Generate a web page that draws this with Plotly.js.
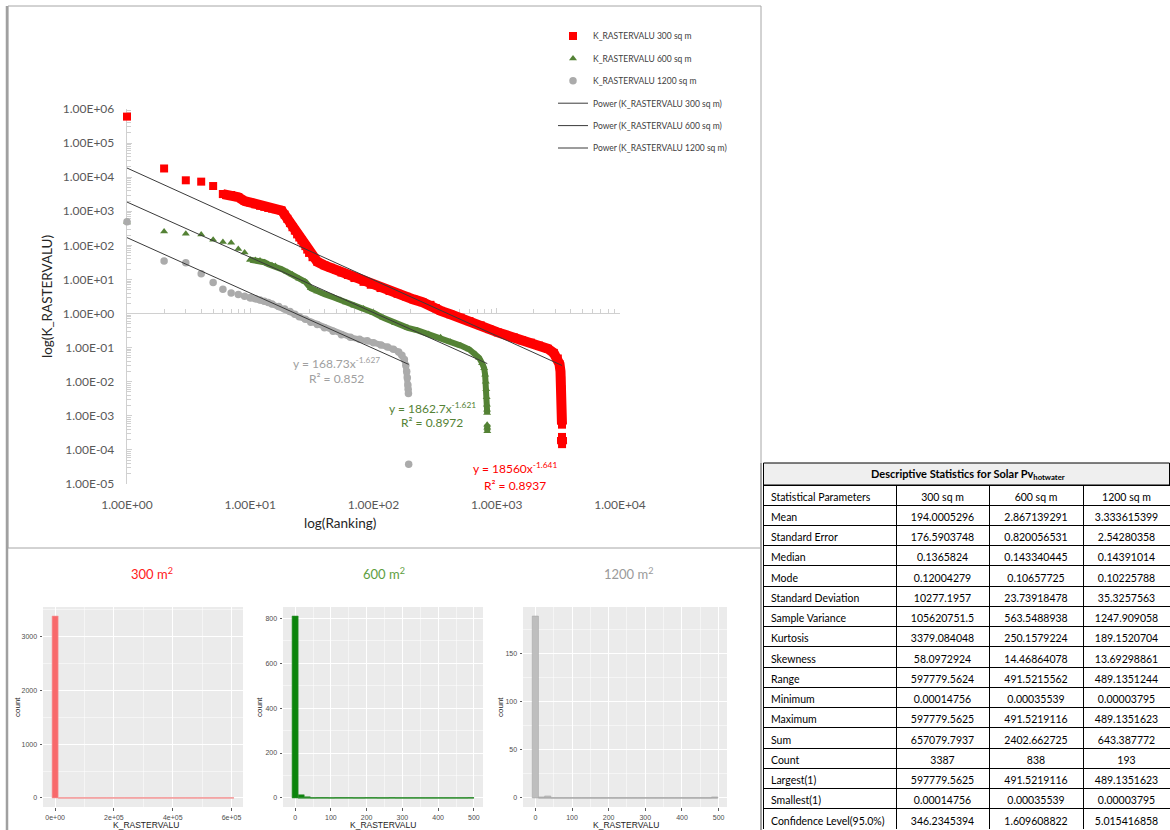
<!DOCTYPE html>
<html><head><meta charset="utf-8">
<script src="https://cdn.plot.ly/plotly-3.0.1.min.js"></script>
<style>html,body{margin:0;padding:0;background:#fff;}#chart{width:1170px;height:830px;}</style>
</head><body><div id="chart"></div>
<script>
// ---------- main chart data (rank vs value) ----------
const rank300Head = [1,2,3,4,5,6];
const val300Head  = [597779.56,18000,8100,7400,5500,3200];
const rank300Tail = [6,7,8,9,10,11,12,13,14,15,16,17,18,19,20,21,22,23,24,25,26,27,28,29,30,32,35,40,45,50,55,62,70,83,95,114,135,157,185,211,250,290,320,351,420,509,600,741,870,1019,1190,1374,1600,1890,2200,2600,2900,3130,3230,3290,3330,3355,3370,3378,3382,3384,null,3385,3386,3387];
const val300Tail  = [3200,3000,2600,2000,1800,1600,1450,1350,1250,1200,1150,1100,1050,800,600,450,340,270,210,170,140,115,95,75,60,45,33,26,22,19,16,13.5,11,8.5,7,5.6,4.6,3.8,3.1,2.6,2.15,1.8,1.45,1.2,0.95,0.76,0.6,0.45,0.35,0.28,0.235,0.2,0.165,0.14,0.115,0.093,0.07,0.048,0.033,0.02,0.011,0.006,0.003,0.0015,0.0009,0.00055,null,0.00024,0.0002,0.00014756];

const rank600Head = [1,2,3,4,5,6,7,8,9,10];
const val600Head  = [491.52,257,220,210,147,125,120,78,62,38];
const rank600Tail = [10,11,12,13,14,15,16,18,20,22,25,28,31,35,40,47,54,60,70,83,100,120,150,190,228,280,350,420,510,600,675,720,760,790,805,815,822,828,832,834,835,null,836,837,838];
const val600Tail  = [38,37,36,32,28,26,25,20,16.5,14,10.5,8.5,5.5,4.4,3.7,3.0,2.5,2.1,1.7,1.4,1.05,0.75,0.52,0.38,0.32,0.25,0.2,0.15,0.115,0.088,0.065,0.05,0.035,0.025,0.016,0.01,0.006,0.0035,0.0021,0.0015,0.0012,null,0.00055,0.00045,0.00035539];

const rank1200Head = [1,2,3,4,5,6,7,8,9,10];
const val1200Head  = [489.14,35,31,14.7,8.2,5.2,4.0,3.6,3.2,2.9];
const rank1200Tail = [10,11,12,13,14,15,17,19,21,23,25,28,31,35,40,47,55,65,77,89,100,115,130,145,160,170,178,183,186,188,190,191,192,null,193];
const val1200Tail  = [2.9,2.7,2.5,2.3,2.1,1.9,1.6,1.35,1.15,0.95,0.8,0.68,0.56,0.48,0.38,0.3,0.24,0.2,0.175,0.16,0.14,0.12,0.105,0.09,0.075,0.06,0.045,0.03,0.02,0.013,0.008,0.006,0.0045,null,0.00003795];

// power trendlines y = a * x^b
const seriesNames = ['K_RASTERVALU 300 sq m','K_RASTERVALU 600 sq m','K_RASTERVALU 1200 sq m'];
const trendA  = [18560, 1862.7, 168.73];
const trendB  = [-1.641, -1.621, -1.627];
const trendR2 = ['0.8937','0.8972','0.852'];
const seriesCount = [3387, 838, 193];

const xTickVals = [1,10,100,1000,10000];
const xTickText = ['1.00E+00','1.00E+01','1.00E+02','1.00E+03','1.00E+04'];
const yTickVals = [1e-5,1e-4,1e-3,1e-2,1e-1,1,10,100,1000,1e4,1e5,1e6];
const yTickText = ['1.00E-05','1.00E-04','1.00E-03','1.00E-02','1.00E-01','1.00E+00','1.00E+01','1.00E+02','1.00E+03','1.00E+04','1.00E+05','1.00E+06'];

// ---------- histogram data (30 bins each) ----------
const hist300  = [3386,0,0,0,0,0,0,0,0,0,0,0,0,0,0,0,0,0,0,0,0,0,0,0,0,0,0,0,0,1];
const hist600  = [810,14,5,0,1,1,0,1,1,1,0,0,1,1,0,0,1,0,0,0,0,0,0,0,0,0,0,0,0,1];
const hist1200 = [189,1,2,0,0,0,0,0,0,0,0,0,0,0,0,0,0,0,0,0,0,0,0,0,0,0,0,0,0,1];
const histRange = [597779.5624, 491.5215562, 489.1351244];
const hist300TickVals = [0,200000,400000,600000];
const hist300TickText = ['0e+00','2e+05','4e+05','6e+05'];

// ---------- table data ----------
const tableHeader = ['Statistical Parameters','300 sq m','600 sq m','1200 sq m'];
const statNames = ['Mean','Standard Error','Median','Mode','Standard Deviation','Sample Variance','Kurtosis','Skewness','Range','Minimum','Maximum','Sum','Count','Largest(1)','Smallest(1)','Confidence Level(95.0%)'];
const stat300  = ['194.0005296','176.5903748','0.1365824','0.12004279','10277.1957','105620751.5','3379.084048','58.0972924','597779.5624','0.00014756','597779.5625','657079.7937','3387','597779.5625','0.00014756','346.2345394'];
const stat600  = ['2.867139291','0.820056531','0.143340445','0.10657725','23.73918478','563.5488938','250.1579224','14.46864078','491.5215562','0.00035539','491.5219116','2402.662725','838','491.5219116','0.00035539','1.609608822'];
const stat1200 = ['3.333615399','2.54280358','0.14391014','0.10225788','35.3257563','1247.909058','189.1520704','13.69298861','489.1351244','0.00003795','489.1351623','643.387772','193','489.1351623','0.00003795','5.015416858'];

// ---------- layout helpers ----------
const W = 1170, H = 830;
const fx = p => p / W;
const fy = p => 1 - p / H;
const RED = '#FF0000', GREEN = '#548235', GREY = '#ABABAB';
const FONT = 'Lato, "Open Sans", sans-serif';
const GG = '"Liberation Sans", Arial, sans-serif';

const traces = [];
const heads = [[rank300Head,val300Head],[rank600Head,val600Head],[rank1200Head,val1200Head]];
const tails = [[rank300Tail,val300Tail],[rank600Tail,val600Tail],[rank1200Tail,val1200Tail]];
const colors = [RED, GREEN, GREY];
const symbols = ['square','triangle-up','circle'];
const msize = [8, 7, 7.5];
const lw = [10, 6, 6];
for (let i = 0; i < 3; i++) {
  traces.push({type:'scatter', mode:'markers', x:heads[i][0], y:heads[i][1], name:seriesNames[i],
    legendgroup:'g'+i, xaxis:'x', yaxis:'y', cliponaxis:false,
    marker:{color:colors[i], symbol:symbols[i], size:msize[i]}});
}
for (let i = 0; i < 3; i++) {
  traces.push({type:'scatter', mode:'lines+markers', x:tails[i][0], y:tails[i][1], showlegend:false,
    legendgroup:'g'+i, xaxis:'x', yaxis:'y', connectgaps:false, cliponaxis:false,
    line:{color:colors[i], width:lw[i]},
    marker:{color:colors[i], symbol:symbols[i], size:msize[i]}});
}
for (let i = 0; i < 3; i++) {
  const xs = [1, seriesCount[i]];
  traces.push({type:'scatter', mode:'lines', x:xs, y:xs.map(v => trendA[i]*Math.pow(v, trendB[i])),
    name:'Power (' + seriesNames[i] + ')', legendgroup:'p'+i, xaxis:'x2', yaxis:'y',
    line:{color:'#3A3A3A', width:1}});
}

// histograms
const hists = [hist300, hist600, hist1200];
const histFill = ['#F8696B', '#0B840B', '#BEBEBE'];
const histEdge = ['#F39A9A', '#2E8B2E', '#A8A8A8'];
const histAx = [['x3','y3'],['x4','y4'],['x5','y5']];
const histXRanges = [], histYRanges = [];
for (let i = 0; i < 3; i++) {
  const bw = histRange[i] / 29;
  const centers = hists[i].map((_, k) => k * bw);
  traces.push({type:'bar', x:centers, y:hists[i], width:bw, showlegend:false,
    xaxis:histAx[i][0], yaxis:histAx[i][1],
    marker:{color:histFill[i], line:{color:histEdge[i], width:0.6}}});
  traces.push({type:'scatter', mode:'lines', x:[0.5*bw, 29.5*bw], y:[0,0], showlegend:false,
    xaxis:histAx[i][0], yaxis:histAx[i][1], hoverinfo:'skip',
    line:{color:histEdge[i], width:1.2}});
  const lo = -0.5*bw, hi = 29.5*bw, ext = 0.05*(hi-lo);
  histXRanges.push([lo-ext, hi+ext]);
  const mx = Math.max(...hists[i]);
  histYRanges.push([-0.05*mx, 1.05*mx]);
}

// table
traces.push({type:'table', domain:{x:[fx(763), fx(1170)], y:[0, fy(485)]},
  columnwidth:[133,93,94,87],
  header:{values:tableHeader, align:['left','center','center','center'], height:20,
    font:{family:FONT, size:10.5, color:'#000'}, line:{color:'#000', width:1}, fill:{color:'#fff'}},
  cells:{values:[statNames, stat300, stat600, stat1200], align:['left','center','center','center'], height:20.25,
    font:{family:FONT, size:10.5, color:'#000'}, line:{color:'#000', width:1}, fill:{color:'#fff'}}
});

function histAxes(i, xdom, ydom) {
  const grid = {showgrid:true, gridcolor:'#FFFFFF', gridwidth:1, zeroline:false, showline:false,
    ticks:'outside', ticklen:2.5, tickcolor:'#333', tickwidth:0.8, ticklabelstandoff:1,
    tickfont:{family:GG, size:7, color:'#4D4D4D'}};
  const xa = Object.assign({}, grid, {domain:xdom, anchor:histAx[i][1], range:histXRanges[i]});
  const ya = Object.assign({}, grid, {domain:ydom, anchor:histAx[i][0], range:histYRanges[i]});
  return [xa, ya];
}
const [x3, y3] = histAxes(0, [fx(43), fx(243)], [fy(807), fy(607)]);
Object.assign(x3, {tickmode:'array', tickvals:hist300TickVals, ticktext:hist300TickText,
  minor:{tickmode:'linear', tick0:0, dtick:100000, showgrid:true, gridcolor:'#FFFFFF', gridwidth:0.5}});
Object.assign(y3, {tick0:0, dtick:1000, minor:{tick0:0, dtick:500, showgrid:true, gridcolor:'#FFFFFF', gridwidth:0.5}});
const [x4, y4] = histAxes(1, [fx(283), fx(483)], [fy(807), fy(607)]);
Object.assign(x4, {tick0:0, dtick:100, minor:{tick0:0, dtick:50, showgrid:true, gridcolor:'#FFFFFF', gridwidth:0.5}});
Object.assign(y4, {tick0:0, dtick:200, minor:{tick0:0, dtick:100, showgrid:true, gridcolor:'#FFFFFF', gridwidth:0.5}});
const [x5, y5] = histAxes(2, [fx(523), fx(727)], [fy(807), fy(607)]);
Object.assign(x5, {tick0:0, dtick:100, minor:{tick0:0, dtick:50, showgrid:true, gridcolor:'#FFFFFF', gridwidth:0.5}});
Object.assign(y5, {tick0:0, dtick:50, minor:{tick0:0, dtick:25, showgrid:true, gridcolor:'#FFFFFF', gridwidth:0.5}});

const annotations = [];
function ann(text, x, y, opts) {
  annotations.push(Object.assign({text:text, x:fx(x), y:fy(y), xref:'paper', yref:'paper',
    showarrow:false, xanchor:'center', yanchor:'middle'}, opts || {}));
}
ann('log(K_RASTERVALU)', 47, 297, {textangle:-90, font:{family:FONT, size:13.5, color:'#262626'}});
ann('log(Ranking)', 340, 523, {font:{family:FONT, size:13.5, color:'#262626'}});
const eqPos = [[515, 468, 485], [432, 408, 423], [336, 363, 378]];
const eqCol = [RED, GREEN, '#A0A0A0'];
for (let i = 0; i < 3; i++) {
  ann('y = ' + trendA[i] + 'x<sup>' + trendB[i] + '</sup>', eqPos[i][0], eqPos[i][1], {font:{family:FONT, size:12, color:eqCol[i]}});
  ann('R² = ' + trendR2[i], eqPos[i][0], eqPos[i][2], {font:{family:FONT, size:12, color:eqCol[i]}});
}
ann('300 m<sup>2</sup>', 152, 573, {font:{family:FONT, size:13, color:'#FF2020'}});
ann('600 m<sup>2</sup>', 384, 573, {font:{family:FONT, size:13, color:'#5E9E3E'}});
ann('1200 m<sup>2</sup>', 628, 573, {font:{family:FONT, size:13, color:'#9A9A9A'}});
const countX = [17, 259, 500], labX = [146, 383, 626];
for (let i = 0; i < 3; i++) {
  ann('count', countX[i], 707, {textangle:-90, font:{family:GG, size:8, color:'#222'}});
  ann('K_RASTERVALU', labX[i], 825, {font:{family:GG, size:8.5, color:'#222'}});
}
ann('<b>Descriptive Statistics for Solar Pv<sub>hotwater</sub></b>', 968, 474, {font:{family:FONT, size:11, color:'#000'}});

const shapes = [
  {type:'rect', xref:'paper', yref:'paper', x0:fx(8), x1:fx(761), y0:fy(548), y1:fy(6), line:{color:'#A6A6A6', width:1}},
  {type:'line', xref:'paper', yref:'paper', x0:fx(7), x1:fx(7), y0:fy(6), y1:0, line:{color:'#A0A0A0', width:2.5}},
  {type:'line', xref:'paper', yref:'paper', x0:fx(761), x1:fx(761), y0:fy(463), y1:0, line:{color:'#A0A0A0', width:2}},
  {type:'rect', xref:'paper', yref:'paper', x0:fx(763.5), x1:fx(1169.5), y0:fy(485), y1:fy(463), fillcolor:'#EFEFEF', line:{color:'#000', width:1}},
];
for (let i = 0; i < 3; i++) {
  shapes.push({type:'rect', xref:histAx[i][0]+' domain', yref:histAx[i][1]+' domain', x0:0, x1:1, y0:0, y1:1,
    fillcolor:'#EBEBEB', line:{width:0}, layer:'below'});
}

const axisGrey = '#D0D0D0';
const layout = {
  width:W, height:H, margin:{l:0, r:0, t:0, b:0},
  paper_bgcolor:'#FFFFFF', plot_bgcolor:'rgba(0,0,0,0)',
  font:{family:FONT, color:'#595959'},
  showlegend:true,
  legend:{x:fx(553), y:fy(21.5), xanchor:'left', yanchor:'top', traceorder:'grouped', tracegroupgap:3.4,
    font:{family:FONT, size:8.5, color:'#404040'}, bgcolor:'rgba(0,0,0,0)', itemwidth:30},
  // main x axis: crosses the value axis at 1.00E+00, minor ticks; labels drawn by xaxis2 at the bottom
  xaxis:{type:'log', range:[0,4], domain:[fx(127), fx(620)], anchor:'free', position:fy(313), side:'bottom',
    layer:'below traces', showline:true, linecolor:axisGrey, linewidth:1.3, ticks:'inside', ticklen:5, tickcolor:axisGrey,
    tickmode:'array', tickvals:xTickVals, showticklabels:false, showgrid:false, zeroline:false,
    minor:{ticks:'inside', ticklen:4, tickcolor:axisGrey, dtick:'D1'}},
  xaxis2:{type:'log', range:[0,4], overlaying:'x', anchor:'y', side:'bottom', showline:false, ticks:'',
    tickmode:'array', tickvals:xTickVals, ticktext:xTickText, showgrid:false, zeroline:false,
    tickfont:{family:FONT, size:12, color:'#595959'}, ticklabelstandoff:12},
  yaxis:{type:'log', range:[-5,6], domain:[fy(484), fy(109)], anchor:'x', layer:'below traces',
    showline:true, linecolor:axisGrey, linewidth:1.3,
    ticks:'inside', ticklen:5, tickcolor:axisGrey, tickmode:'array', tickvals:yTickVals, ticktext:yTickText,
    showgrid:false, zeroline:false, ticklabelstandoff:9,
    minor:{ticks:'inside', ticklen:4, tickcolor:axisGrey, dtick:'D1'},
    tickfont:{family:FONT, size:12, color:'#595959'}},
  xaxis3:x3, yaxis3:y3, xaxis4:x4, yaxis4:y4, xaxis5:x5, yaxis5:y5,
  bargap:0,
  annotations:annotations,
  shapes:shapes
};
Plotly.newPlot('chart', traces, layout, {staticPlot:true, displayModeBar:false});
</script></body></html>
